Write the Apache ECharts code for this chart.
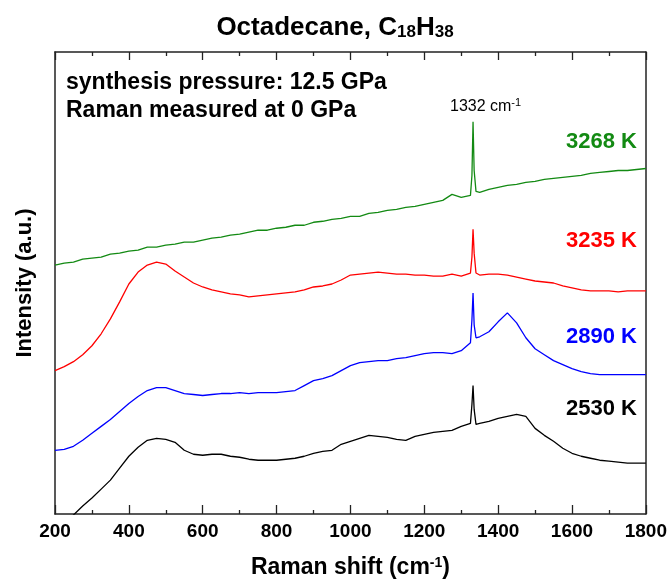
<!DOCTYPE html>
<html>
<head>
<meta charset="utf-8">
<script src="https://cdn.jsdelivr.net/npm/echarts@6/dist/echarts.min.js"></script>
<style>
  html, body { margin: 0; padding: 0; background: #fff; }
  #main { width: 670px; height: 584px; }
</style>
</head>
<body>
<div id="main"></div>
<script>
// Raman shift grid (cm-1), shared by all spectra
var shifts = [200,225,250,275,300,325,350,375,400,425,450,475,500,525,550,575,600,625,650,675,
  700,725,750,775,800,825,850,875,900,925,950,975,1000,1025,1050,1075,1100,1125,1150,1175,
  1200,1225,1250,1275,1300,1325,1329,1332,1335,1340,1350,1375,1400,1425,1450,1475,1500,1525,
  1550,1575,1600,1625,1650,1675,1700,1725,1750,1775,1800];

// intensities (a.u., offset traces)
var k3268 = [250,252,253,256,257,258,261,262,264,265,268,268,270,271,273,273,275,277,278,280,
  281,283,285,285,287,288,290,290,293,294,296,297,299,299,302,303,305,306,308,309,
  311,313,315,321,318,320,340,394,345,324,323,326,328,330,331,333,334,336,
  337,338,339,340,342,343,344,345,345,346,347];
var k3235 = [144,148,153,160,169,181,196,213,231,243,250,253,251,244,238,232,228,225,223,221,
  220,218,219,220,221,222,223,225,228,229,231,235,240,241,242,243,242,241,241,240,
  240,239,239,241,239,242,258,286,262,242,240,241,241,240,238,236,234,233,
  232,229,227,225,224,224,224,223,224,224,224];
var k2890 = [64,65,68,74,81,88,95,103,111,118,124,127,127,124,121,120,119,120,121,121,
  122,121,122,122,122,123,124,129,134,136,139,144,149,152,153,154,154,156,157,159,
  161,162,162,161,164,172,195,222,190,177,178,183,193,202,192,177,166,160,
  154,150,146,143,141,140,140,140,140,140,140];
var k2530 = [-22,-12,-1,8,16,25,34,46,58,67,74,76,75,72,64,60,59,60,60,58,
  57,55,54,54,54,55,56,58,61,63,64,70,73,76,79,78,77,75,74,78,
  80,82,83,84,88,91,110,129,105,90,91,93,96,98,100,98,86,79,
  73,66,61,58,56,54,53,52,51,51,51];

var traceNames = ['3268 K', '3235 K', '2890 K', '2530 K'];
var traceColors = ['#138a13', '#ff0000', '#0000ff', '#000000'];
var traceValues = [k3268, k3235, k2890, k2530];
var labelY = [142, 241, 337, 409];

var FONT = '"Liberation Sans", Arial, sans-serif';
var Y_MAX = 464;

function pairs(vals) {
  return shifts.map(function (s, i) { return [s, vals[i]]; });
}

var chart = echarts.init(document.getElementById('main'), null, { renderer: 'canvas' });

var series = traceValues.map(function (vals, i) {
  return {
    name: traceNames[i],
    type: 'line',
    data: pairs(vals),
    showSymbol: false,
    smooth: false,
    clip: true,
    lineStyle: { color: traceColors[i], width: 1.3 },
    itemStyle: { color: traceColors[i] },
    z: 3
  };
});

var graphics = [
  {
    type: 'text', left: 'center', top: 12,
    style: {
      text: '{m|Octadecane, C}{s|18}{m|H}{s|38}',
      font: 'bold 26px ' + FONT,
      rich: {
        m: { fontSize: 26, fontWeight: 'bold', fontFamily: FONT, lineHeight: 26, verticalAlign: 'top', fill: '#000' },
        s: { fontSize: 17, fontWeight: 'bold', fontFamily: FONT, lineHeight: 17, verticalAlign: 'bottom', padding: [12, 0, 0, 0], fill: '#000' }
      }
    }
  },
  { type: 'text', x: 66, y: 83, style: { text: 'synthesis pressure: 12.5 GPa', font: 'bold 23px ' + FONT, fill: '#000', verticalAlign: 'middle' } },
  { type: 'text', x: 66, y: 111, style: { text: 'Raman measured at 0 GPa', font: 'bold 23px ' + FONT, fill: '#000', verticalAlign: 'middle' } },
  {
    type: 'text', x: 450, y: 97,
    style: {
      text: '{n|1332 cm}{p|-1}',
      rich: {
        n: { fontSize: 16, fontFamily: FONT, lineHeight: 18, verticalAlign: 'bottom', fill: '#000' },
        p: { fontSize: 11, fontFamily: FONT, lineHeight: 11, verticalAlign: 'top', fill: '#000' }
      }
    }
  }
];
traceNames.forEach(function (n, i) {
  graphics.push({
    type: 'text', x: 637, y: labelY[i],
    style: { text: n, font: 'bold 22px ' + FONT, fill: traceColors[i], align: 'right', verticalAlign: 'middle' }
  });
});

var axisLineStyle = { color: '#222', width: 1.5 };

var option = {
  backgroundColor: '#ffffff',
  animation: false,
  grid: { left: 55, right: 23, top: 52, bottom: 68, containLabel: false },
  xAxis: [{
    type: 'value',
    min: 200, max: 1800, interval: 200,
    name: 'Raman shift (cm{p|-1})',
    nameLocation: 'middle',
    nameGap: 42,
    nameTextStyle: {
      fontSize: 23, fontWeight: 'bold', fontFamily: FONT, color: '#000',
      rich: {
        p: { fontSize: 14, fontWeight: 'bold', fontFamily: FONT, color: '#000', verticalAlign: 'top', lineHeight: 14 }
      }
    },
    axisLine: { show: true, onZero: false, lineStyle: axisLineStyle },
    axisTick: { show: true, inside: true, length: 9, lineStyle: { color: '#222', width: 1.3 } },
    minorTick: { show: true, splitNumber: 2, length: 4, lineStyle: { color: '#222', width: 1.3 } },
    axisLabel: {
      margin: 8, fontSize: 19, fontWeight: 'bold', fontFamily: FONT, color: '#000',
      formatter: function (v) { return String(v); }
    },
    splitLine: { show: false }
  }, {
    type: 'value',
    position: 'top',
    min: 200, max: 1800, interval: 200,
    axisLine: { show: true, onZero: false, lineStyle: axisLineStyle },
    axisTick: { show: true, inside: true, length: 8, lineStyle: { color: '#222', width: 1.3 } },
    minorTick: { show: true, splitNumber: 2, length: 4, lineStyle: { color: '#222', width: 1.3 } },
    axisLabel: { show: false },
    splitLine: { show: false }
  }],
  yAxis: [{
    type: 'value',
    min: 0, max: Y_MAX,
    name: 'Intensity (a.u.)',
    nameLocation: 'middle',
    nameGap: 19,
    nameTextStyle: { fontSize: 22, fontWeight: 'bold', fontFamily: FONT, color: '#000' },
    axisLine: { show: true, onZero: false, lineStyle: axisLineStyle },
    axisTick: { show: false },
    axisLabel: { show: false },
    splitLine: { show: false }
  }, {
    type: 'value',
    position: 'right',
    min: 0, max: Y_MAX,
    axisLine: { show: true, onZero: false, lineStyle: axisLineStyle },
    axisTick: { show: false },
    axisLabel: { show: false },
    splitLine: { show: false }
  }],
  series: series,
  graphic: graphics
};

chart.setOption(option);
</script>
</body>
</html>
